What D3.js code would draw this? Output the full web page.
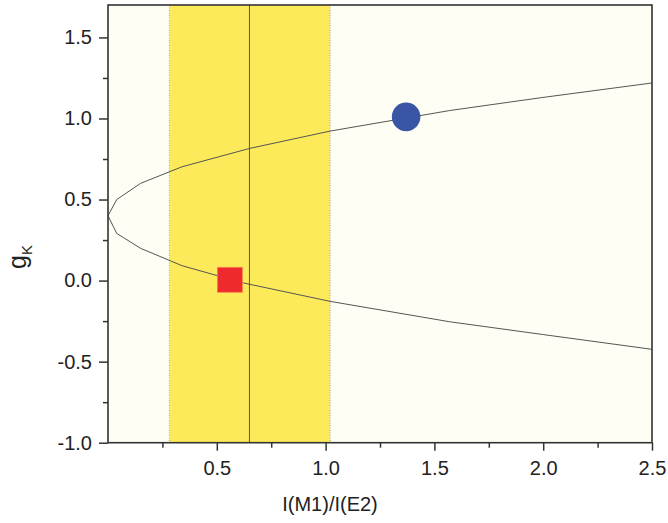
<!DOCTYPE html>
<html>
<head>
<meta charset="utf-8">
<script src="https://cdn.jsdelivr.net/npm/d3@7/dist/d3.min.js"></script>
<style>
  html, body { margin: 0; padding: 0; background: #ffffff; }
  svg { display: block; }
</style>
</head>
<body>
<svg id="chart" width="668" height="523"></svg>
<script>
// ---- data ----
const xDomain = [0, 2.5];
const yDomain = [-1.0, 1.7];
const xMajorTicks = [0.5, 1.0, 1.5, 2.0, 2.5];
const xMinorTicks = [0.25, 0.75, 1.25, 1.75, 2.25];
const yMajorTicks = [-1.0, -0.5, 0.0, 0.5, 1.0, 1.5];
const yMinorTicks = [-0.75, -0.25, 0.25, 0.75, 1.25];
const bandRange = [0.282, 1.021];
const verticalLineX = 0.65;
const upperBranch = [
  [0, 0.4], [0.04, 0.5], [0.15, 0.6], [0.34, 0.702], [0.65, 0.815],
  [1.02, 0.922], [1.57, 1.049], [2.0, 1.13], [2.5, 1.219]
];
const lowerBranch = [
  [0, 0.4], [0.04, 0.291], [0.15, 0.199], [0.34, 0.092], [0.62, -0.014],
  [1.02, -0.128], [1.57, -0.254], [2.0, -0.333], [2.5, -0.424]
];
const circlePoint = [1.37, 1.01];
const squarePoint = [0.56, 0.005];
const xLabel = "I(M1)/I(E2)";
const yLabelMain = "g";
const yLabelSub = "K";

// ---- layout ----
const svg = d3.select("#chart");
const pL = 108, pR = 652, pT = 5, pB = 442.7;

const x = d3.scaleLinear().domain(xDomain).range([pL, pR]);
const y = d3.scaleLinear().domain(yDomain).range([pB, pT]);

const fmt = d => d3.format(".1f")(d).replace("\u2212", "-");

// plot background
svg.append("rect")
  .attr("x", pL).attr("y", pT)
  .attr("width", pR - pL).attr("height", pB - pT)
  .attr("fill", "#fffef4");

// yellow band
svg.append("rect")
  .attr("x", x(bandRange[0])).attr("y", pT)
  .attr("width", x(bandRange[1]) - x(bandRange[0]))
  .attr("height", pB - pT)
  .attr("fill", "#fdea5a");

// band edges (dotted)
svg.selectAll("line.edge").data(bandRange).enter().append("line")
  .attr("class", "edge")
  .attr("x1", d => x(d)).attr("x2", d => x(d))
  .attr("y1", pT).attr("y2", pB)
  .attr("stroke", "#a8a8a8").attr("stroke-width", 1)
  .attr("stroke-dasharray", "1,1.5");

// vertical line
svg.append("line")
  .attr("x1", x(verticalLineX)).attr("x2", x(verticalLineX))
  .attr("y1", pT).attr("y2", pB)
  .attr("stroke", "#555").attr("stroke-width", 1);

// curve
const line = d3.line().x(d => x(d[0])).y(d => y(d[1]));
[upperBranch, lowerBranch].forEach(br => {
  svg.append("path").datum(br)
    .attr("d", line)
    .attr("fill", "none")
    .attr("stroke", "#555")
    .attr("stroke-width", 1);
});

// markers
svg.append("circle")
  .attr("cx", x(circlePoint[0])).attr("cy", y(circlePoint[1]))
  .attr("r", 14.3)
  .attr("fill", "#3a55a5");

const sq = 25;
svg.append("rect")
  .attr("x", x(squarePoint[0]) - sq / 2).attr("y", y(squarePoint[1]) - sq / 2)
  .attr("width", sq).attr("height", sq)
  .attr("fill", "#ee2a2e")
  .attr("stroke", "#f4864a").attr("stroke-width", 0.8);

// axes
const font = "'Liberation Sans', Arial, sans-serif";

const xAxis = svg.append("g").attr("transform", `translate(0,${pB})`)
  .call(d3.axisBottom(x).tickValues(xMajorTicks).tickFormat(fmt).tickSize(8).tickPadding(10));
const xMinor = svg.append("g").attr("transform", `translate(0,${pB})`)
  .call(d3.axisBottom(x).tickValues(xMinorTicks).tickFormat("").tickSize(5));
const yAxis = svg.append("g").attr("transform", `translate(${pL},0)`)
  .call(d3.axisLeft(y).tickValues(yMajorTicks).tickFormat(fmt).tickSize(9).tickPadding(7));
const yMinor = svg.append("g").attr("transform", `translate(${pL},0)`)
  .call(d3.axisLeft(y).tickValues(yMinorTicks).tickFormat("").tickSize(5));

[xAxis, xMinor, yAxis, yMinor].forEach(g => {
  g.select(".domain").remove();
  g.selectAll(".tick line").attr("stroke", "#333").attr("stroke-width", 1.5);
  g.selectAll(".tick text").attr("fill", "#222")
    .style("font-family", font).style("font-size", "20px");
});

// frame
svg.append("rect")
  .attr("x", pL).attr("y", pT)
  .attr("width", pR - pL).attr("height", pB - pT)
  .attr("fill", "none").attr("stroke", "#333").attr("stroke-width", 1.6);

// axis titles
svg.append("text")
  .attr("x", 330).attr("y", 511)
  .attr("text-anchor", "middle")
  .attr("fill", "#222")
  .style("font-family", font).style("font-size", "20px")
  .text(xLabel);

const yl = svg.append("text")
  .attr("transform", "translate(26,257) rotate(-90)")
  .attr("text-anchor", "middle")
  .attr("fill", "#222")
  .style("font-family", font).style("font-size", "25px");
yl.append("tspan").text(yLabelMain);
yl.append("tspan").attr("dy", 6).style("font-size", "15px").text(yLabelSub);
</script>
</body>
</html>
